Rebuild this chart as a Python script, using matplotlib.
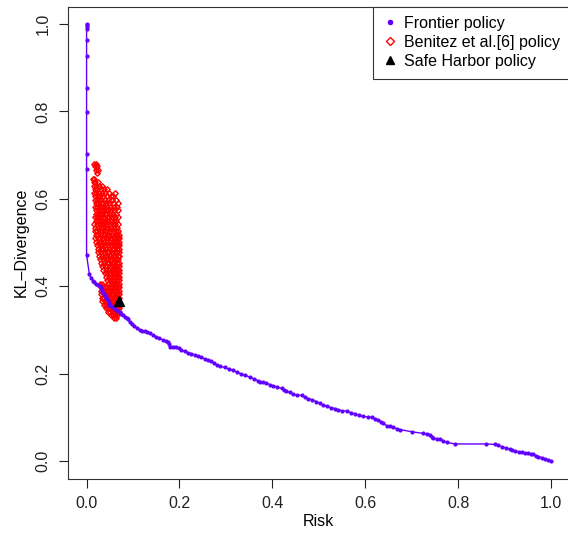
import matplotlib
matplotlib.use("Agg")
import matplotlib.pyplot as plt
from matplotlib.lines import Line2D

plt.rcParams['font.family'] = ['Liberation Sans', 'DejaVu Sans']

# Frontier policy (risk, KL-divergence)
frontier_risk = [
    0.000, 0.000, 0.000, 0.000, 0.000, 0.000, 0.000, 0.000, 0.000, 0.000, 0.000,
    0.006, 0.010, 0.014, 0.017, 0.021, 0.024, 0.028, 0.032, 0.033, 0.034, 0.037,
    0.039, 0.041, 0.041, 0.046, 0.048, 0.048, 0.052, 0.057, 0.060, 0.064, 0.068,
    0.071, 0.074, 0.078, 0.083, 0.086, 0.089, 0.093, 0.098, 0.103, 0.108, 0.114,
    0.120, 0.125, 0.130, 0.136, 0.143, 0.150, 0.157, 0.164, 0.170, 0.175, 0.177,
    0.179, 0.186, 0.193, 0.199, 0.204, 0.211, 0.218, 0.225, 0.233, 0.240, 0.247,
    0.254, 0.261, 0.268, 0.274, 0.280, 0.288, 0.297, 0.306, 0.315, 0.324, 0.333,
    0.342, 0.351, 0.360, 0.369, 0.373, 0.380, 0.387, 0.395, 0.402, 0.411, 0.420,
    0.425, 0.430, 0.437, 0.445, 0.454, 0.463, 0.470, 0.477, 0.486, 0.495, 0.502,
    0.509, 0.518, 0.527, 0.535, 0.542, 0.551, 0.560, 0.569, 0.578, 0.587, 0.595,
    0.605, 0.614, 0.621, 0.628, 0.634, 0.639, 0.646, 0.653, 0.660, 0.668, 0.675,
    0.700, 0.725, 0.732, 0.739, 0.743, 0.746, 0.754, 0.761, 0.768, 0.775, 0.793,
    0.861, 0.879, 0.886, 0.894, 0.903, 0.912, 0.917, 0.922, 0.930, 0.937, 0.944,
    0.951, 0.957, 0.962, 0.968, 0.973, 0.980, 0.987, 0.993, 0.999,
]
frontier_kl = [
    1.000, 0.997, 0.993, 0.989, 0.963, 0.927, 0.854, 0.799, 0.703, 0.668, 0.471,
    0.428, 0.418, 0.413, 0.410, 0.406, 0.403, 0.400, 0.397, 0.392, 0.387, 0.383,
    0.380, 0.375, 0.372, 0.368, 0.362, 0.357, 0.355, 0.353, 0.350, 0.346, 0.343,
    0.340, 0.337, 0.334, 0.330, 0.327, 0.324, 0.319, 0.314, 0.309, 0.305, 0.300,
    0.298, 0.297, 0.295, 0.292, 0.288, 0.284, 0.281, 0.277, 0.275, 0.273, 0.267,
    0.262, 0.262, 0.262, 0.258, 0.254, 0.251, 0.248, 0.246, 0.243, 0.240, 0.237,
    0.234, 0.231, 0.228, 0.224, 0.220, 0.217, 0.214, 0.211, 0.208, 0.203, 0.199,
    0.196, 0.192, 0.188, 0.184, 0.181, 0.180, 0.178, 0.175, 0.172, 0.169, 0.166,
    0.163, 0.160, 0.157, 0.153, 0.151, 0.150, 0.146, 0.143, 0.140, 0.136, 0.132,
    0.128, 0.125, 0.122, 0.120, 0.117, 0.115, 0.114, 0.111, 0.108, 0.105, 0.102,
    0.101, 0.100, 0.097, 0.094, 0.090, 0.086, 0.081, 0.079, 0.077, 0.074, 0.072,
    0.067, 0.063, 0.061, 0.059, 0.055, 0.052, 0.051, 0.050, 0.046, 0.043, 0.039,
    0.039, 0.038, 0.036, 0.033, 0.030, 0.027, 0.025, 0.023, 0.021, 0.020, 0.019,
    0.018, 0.016, 0.015, 0.012, 0.010, 0.008, 0.005, 0.003, 0.001,
]

# Benitez et al. policies, listed row by row (one KL level per row)
benitez_rows_kl = [
    0.680, 0.675, 0.667, 0.660, 0.645, 0.638, 0.630, 0.622, 0.614, 0.606,
    0.598, 0.590, 0.582, 0.574, 0.566, 0.558, 0.550, 0.542, 0.534, 0.526,
    0.518, 0.510, 0.502, 0.494, 0.486, 0.478, 0.470, 0.462, 0.454, 0.446,
    0.438, 0.430, 0.422, 0.414, 0.406, 0.398, 0.390, 0.382, 0.374, 0.366,
    0.358, 0.350, 0.342, 0.334, 0.327,
]
benitez_rows_risk = [
    [0.017, 0.021],
    [0.019, 0.023],
    [0.020, 0.024],
    [0.022],
    [0.013, 0.017],
    [0.015, 0.019, 0.024],
    [0.016, 0.021, 0.027, 0.034],
    [0.018, 0.023, 0.030, 0.037, 0.044],
    [0.017, 0.021, 0.026, 0.033, 0.040, 0.049, 0.062],
    [0.019, 0.024, 0.029, 0.036, 0.043, 0.052, 0.057],
    [0.018, 0.022, 0.027, 0.032, 0.039, 0.046, 0.054, 0.063],
    [0.020, 0.025, 0.030, 0.035, 0.041, 0.048, 0.056, 0.067],
    [0.019, 0.023, 0.028, 0.033, 0.038, 0.044, 0.050, 0.058, 0.065],
    [0.021, 0.026, 0.031, 0.036, 0.042, 0.047, 0.053, 0.060, 0.068],
    [0.020, 0.024, 0.029, 0.034, 0.039, 0.045, 0.051, 0.057, 0.063],
    [0.018, 0.022, 0.027, 0.032, 0.037, 0.043, 0.049, 0.055, 0.061, 0.067],
    [0.020, 0.025, 0.030, 0.035, 0.040, 0.046, 0.052, 0.058, 0.064],
    [0.017, 0.022, 0.028, 0.033, 0.038, 0.044, 0.050, 0.056, 0.062, 0.068],
    [0.019, 0.024, 0.030, 0.036, 0.041, 0.047, 0.053, 0.059, 0.065],
    [0.018, 0.023, 0.028, 0.034, 0.040, 0.045, 0.051, 0.057, 0.063, 0.068],
    [0.020, 0.025, 0.031, 0.037, 0.043, 0.049, 0.055, 0.061, 0.066, 0.069],
    [0.019, 0.024, 0.029, 0.035, 0.041, 0.047, 0.053, 0.059, 0.064, 0.067, 0.069],
    [0.021, 0.026, 0.032, 0.038, 0.044, 0.050, 0.056, 0.062, 0.066, 0.069],
    [0.022, 0.028, 0.034, 0.040, 0.046, 0.052, 0.058, 0.063, 0.067, 0.069],
    [0.024, 0.030, 0.036, 0.042, 0.048, 0.054, 0.060, 0.065, 0.069],
    [0.025, 0.031, 0.037, 0.043, 0.049, 0.055, 0.061, 0.066, 0.069],
    [0.027, 0.033, 0.039, 0.045, 0.051, 0.057, 0.062, 0.067, 0.069],
    [0.029, 0.035, 0.041, 0.047, 0.053, 0.059, 0.064, 0.068],
    [0.031, 0.037, 0.043, 0.049, 0.055, 0.060, 0.065, 0.069],
    [0.033, 0.039, 0.045, 0.051, 0.057, 0.062, 0.066, 0.069],
    [0.036, 0.042, 0.048, 0.054, 0.059, 0.064, 0.068, 0.069],
    [0.039, 0.045, 0.051, 0.056, 0.061, 0.066, 0.069],
    [0.042, 0.048, 0.053, 0.058, 0.063, 0.067, 0.069],
    [0.045, 0.050, 0.055, 0.060, 0.065, 0.069],
    [0.029, 0.033, 0.047, 0.052, 0.057, 0.062, 0.066, 0.069],
    [0.030, 0.035, 0.040, 0.045, 0.050, 0.055, 0.060, 0.064, 0.068, 0.069],
    [0.031, 0.036, 0.041, 0.046, 0.051, 0.056, 0.061, 0.065, 0.069],
    [0.032, 0.037, 0.042, 0.047, 0.052, 0.057, 0.062, 0.066, 0.069],
    [0.033, 0.038, 0.043, 0.048, 0.053, 0.058, 0.063, 0.067, 0.069],
    [0.034, 0.039, 0.044, 0.049, 0.054, 0.059, 0.064, 0.068],
    [0.037, 0.042, 0.047, 0.052, 0.057, 0.062, 0.066, 0.069],
    [0.041, 0.046, 0.051, 0.056, 0.061, 0.065, 0.069],
    [0.046, 0.051, 0.056, 0.061, 0.065, 0.069],
    [0.052, 0.057, 0.062, 0.066],
    [0.058, 0.063],
]

# Safe Harbor policy
safe_harbor_risk = [0.0697]
safe_harbor_kl = [0.366]

x_ticks = [0.0, 0.2, 0.4, 0.6, 0.8, 1.0]
y_ticks = [0.0, 0.2, 0.4, 0.6, 0.8, 1.0]

FRONTIER_COLOR = '#6200ff'
FS = 11.5

benitez_risk = [r for row in benitez_rows_risk for r in row]
benitez_kl = [k for k, row in zip(benitez_rows_kl, benitez_rows_risk) for _ in row]

fig = plt.figure(figsize=(5.68, 5.40), dpi=100)
W, H = 568.0, 540.0
ax = fig.add_axes([68 / W, 61.5 / H, (569.6 - 68) / W, (478.5 - 6.5) / H])

ax.plot(benitez_risk, benitez_kl, 'D', mfc='none', mec='#ff0000', mew=1.0,
        ms=2.8, ls='none', zorder=2)
ax.plot(frontier_risk, frontier_kl, '-', color=FRONTIER_COLOR, lw=1.0, zorder=3)
ax.plot(frontier_risk, frontier_kl, 'o', color=FRONTIER_COLOR, ms=3.0,
        mec='none', zorder=3)
ax.plot(safe_harbor_risk, safe_harbor_kl, '^', color='black', ms=6.5,
        ls='none', zorder=4)

ax.set_xlim(-0.04, 1.04)
ax.set_ylim(-0.04, 1.04)
ax.set_xticks(x_ticks)
ax.set_yticks(y_ticks)
ax.set_xticklabels([f'{v:.1f}' for v in x_ticks])
ax.set_yticklabels([f'{v:.1f}' for v in y_ticks], rotation=90, va='center')
ax.tick_params(axis='both', direction='out', length=6.5, width=0.8,
               labelsize=FS, pad=6, colors='#222222')
for s in ax.spines.values():
    s.set_linewidth(0.8)
    s.set_color('#333333')

ax.set_xlabel('Risk', fontsize=FS, labelpad=2)
ax.set_ylabel('KL\u2013Divergence', fontsize=FS, labelpad=5)

handles = [
    Line2D([], [], marker='o', ls='none', color=FRONTIER_COLOR, ms=4, mec='none'),
    Line2D([], [], marker='D', ls='none', mfc='none', mec='#ff0000', mew=1.0, ms=4.5),
    Line2D([], [], marker='^', ls='none', color='black', ms=6),
]
labels = ['Frontier policy', 'Benitez et al.[6] policy', 'Safe Harbor policy']
leg = ax.legend(handles, labels, loc='upper right', borderaxespad=0,
                fontsize=FS, fancybox=False, framealpha=1, edgecolor='#333333',
                handlelength=0.9, handletextpad=0.45, labelspacing=0.25,
                borderpad=0.6)
leg.get_frame().set_linewidth(0.8)

fig.savefig('out.png', dpi=100)
